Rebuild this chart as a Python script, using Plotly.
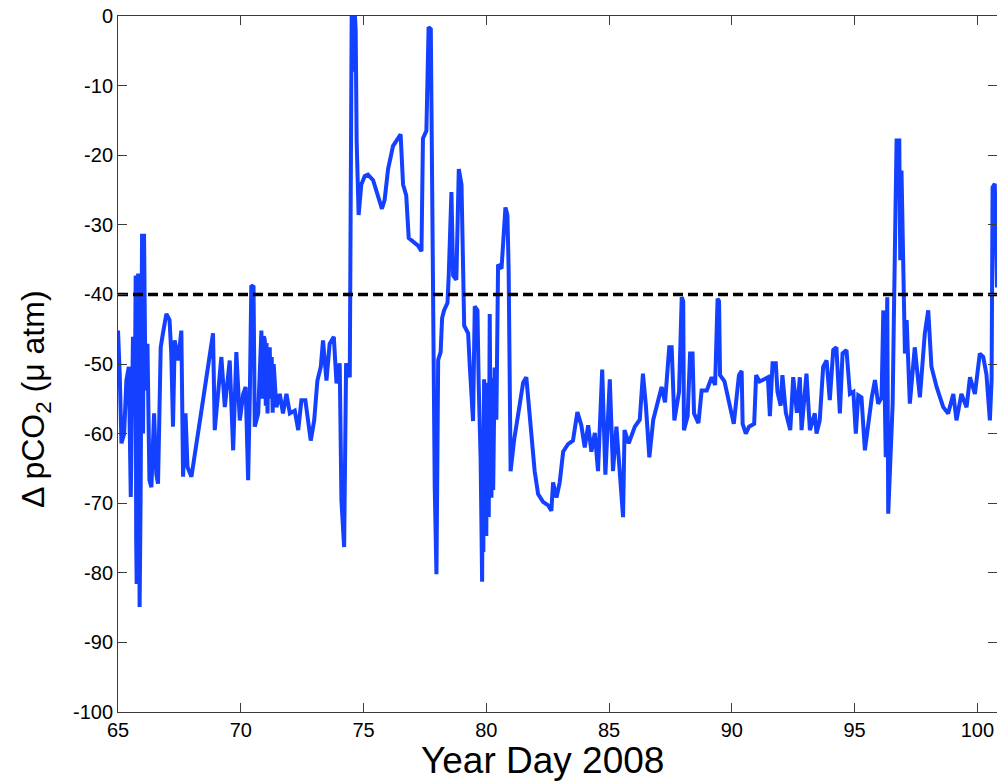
import plotly.graph_objects as go

# Year day 2008 and air-sea pCO2 difference (micro-atm)
day = [
    65.00, 65.07, 65.14, 65.25, 65.34, 65.44, 65.52, 65.61, 65.68, 65.72,
    65.74, 65.76, 65.78, 65.80, 65.82, 65.85, 65.88, 65.92, 65.95, 65.98,
    66.02, 66.06, 66.12, 66.20, 66.28, 66.36,
    66.47, 66.56, 66.63, 66.74, 66.83, 66.97, 67.10, 67.17, 67.24, 67.31,
    67.45, 67.58, 67.65, 67.75, 67.83, 67.99, 68.42, 68.87, 68.94, 69.08,
    69.21, 69.35, 69.55, 69.69, 69.82, 69.96, 70.10, 70.20, 70.30, 70.37,
    70.43, 70.52, 70.57, 70.71, 70.84, 70.90, 70.94, 70.98, 71.02, 71.05,
    71.09, 71.12, 71.18, 71.22, 71.26, 71.30, 71.34, 71.45,
    71.59, 71.72, 71.86, 72.00, 72.20, 72.34, 72.47, 72.63, 72.74, 72.85,
    72.99, 73.12, 73.26, 73.35, 73.49, 73.62, 73.79, 73.90, 74.03, 74.10,
    74.21, 74.29, 74.44, 74.48, 74.52, 74.57, 74.62, 74.68, 74.72, 74.80,
    74.91, 75.05, 75.18, 75.39, 75.59, 75.75, 75.86, 76.00, 76.20, 76.40,
    76.51, 76.61, 76.74, 76.84, 77.02, 77.22, 77.36, 77.42, 77.56, 77.65,
    77.74, 77.79, 77.83, 77.90, 77.97, 78.01, 78.04, 78.14, 78.20, 78.28,
    78.42, 78.47, 78.58, 78.65, 78.78, 78.88, 78.99, 79.10, 79.26, 79.33,
    79.46, 79.53, 79.64, 79.69, 79.77, 79.83, 79.86, 79.88, 79.91, 79.95,
    80.00, 80.03, 80.07, 80.10, 80.14, 80.17, 80.21, 80.24, 80.28, 80.34,
    80.41, 80.48, 80.62, 80.78, 80.86, 80.91, 80.99,
    81.13, 81.29, 81.50, 81.63, 81.77, 81.97, 82.11, 82.31, 82.52, 82.65,
    82.72, 82.86, 82.99, 83.13, 83.33, 83.53, 83.71, 83.87, 84.01, 84.15,
    84.28, 84.42, 84.55, 84.72, 84.85, 85.03, 85.16, 85.30, 85.57, 85.63,
    85.80, 86.05, 86.25, 86.38, 86.50, 86.64, 86.80, 87.14, 87.28, 87.45,
    87.55, 87.62, 87.66, 87.85, 87.96, 88.02, 88.05, 88.20, 88.30, 88.40,
    88.46, 88.64, 88.77, 88.98, 89.18, 89.32, 89.42, 89.48, 89.52, 89.70,
    89.88, 90.08, 90.29, 90.40, 90.44, 90.57, 90.70, 90.91, 90.99, 91.13,
    91.26, 91.47, 91.55, 91.66, 91.79, 91.86, 91.99, 92.06, 92.20, 92.38,
    92.50, 92.65, 92.77, 92.84, 93.04, 93.18, 93.38, 93.45, 93.58, 93.72,
    93.86, 93.99, 94.13, 94.26, 94.40, 94.51, 94.67, 94.81, 94.95, 95.05,
    95.15, 95.28, 95.42, 95.57, 95.70, 95.83, 95.96, 96.10, 96.17, 96.27,
    96.33, 96.37, 96.44, 96.55, 96.60, 96.64, 96.71, 96.82, 96.86, 96.91,
    96.98, 97.05, 97.12, 97.25, 97.45, 97.66, 97.86, 98.00, 98.13, 98.34,
    98.61, 98.81, 99.02, 99.15, 99.35, 99.56, 99.70, 99.90, 100.10, 100.24,
    100.37, 100.51, 100.58, 100.62, 100.71, 100.80,
]
dpco2 = [
    -45.2, -51.4, -61.4, -60.0, -52.4, -50.4, -69.1, -46.1, -57.1, -37.3,
    -75.0, -81.6, -40.0, -78.0, -37.0, -60.0, -84.9, -69.6, -40.0, -31.3,
    -60.0, -31.3, -53.8, -47.1, -66.7, -67.7,
    -57.1, -65.8, -67.2, -47.6, -45.6, -42.8, -43.7, -48.5, -59.0, -46.6,
    -49.5, -45.2, -66.2, -57.1, -64.8, -66.2, -56.2, -45.6, -59.5, -53.3,
    -49.0, -56.2, -49.5, -62.4, -48.3, -58.1, -54.3, -53.3, -66.7, -54.3,
    -38.7, -38.9, -59.0, -57.1, -45.2, -55.0, -46.0, -46.6, -56.0, -47.0,
    -57.1, -50.0, -47.6, -55.0, -49.0, -57.0, -50.0, -56.2,
    -54.3, -57.1, -54.3, -57.1, -56.7, -59.5, -55.2, -55.2, -58.1, -61.0,
    -58.1, -52.4, -50.4, -46.6, -52.4, -47.1, -46.1, -52.8, -49.9, -69.6,
    -76.3, -49.9, -51.9, -23.6, 2.0, -8.0, 2.0, -2.0, -18.0, -28.6,
    -24.2, -23.0, -22.8, -23.6, -25.8, -27.7, -26.4, -22.0, -18.7, -17.6,
    -17.0, -24.2, -25.8, -31.9, -32.4, -33.0, -33.8, -17.6, -16.5, -1.6,
    -1.9, -19.8, -47.2, -67.6, -80.2, -68.0, -49.4, -48.3, -43.4, -42.3,
    -41.2, -37.3, -25.3, -37.3, -37.9, -22.0, -24.2, -44.5, -45.6, -50.5,
    -58.2, -41.7, -42.3, -52.7, -63.7, -81.3, -60.0, -77.0, -52.2, -70.0,
    -74.7, -56.0, -52.7, -72.0, -42.8, -60.0, -69.2, -52.0, -68.1, -50.5,
    -58.0, -35.7, -36.3, -27.5, -28.6, -36.3, -65.4,
    -61.0, -57.1, -52.7, -51.9, -57.1, -65.4, -68.7, -69.8, -70.3, -71.1,
    -67.0, -69.2, -67.0, -62.6, -61.5, -61.0, -56.9, -58.8, -62.0, -58.8,
    -62.6, -59.9, -65.4, -50.8, -65.9, -52.2, -65.4, -59.0, -72.0, -59.5,
    -61.4, -59.0, -58.0, -51.4, -56.0, -63.4, -58.0, -53.3, -55.5, -47.6,
    -47.6, -56.5, -58.1, -54.0, -40.4, -41.0, -59.5, -57.5, -48.5, -48.5,
    -57.1, -58.5, -53.8, -53.8, -51.9, -53.0, -40.6, -41.0, -51.6, -52.5,
    -55.7, -58.6, -51.6, -51.0, -58.6, -60.0, -59.0, -58.6, -51.6, -52.5,
    -52.3, -51.9, -57.5, -49.9, -49.9, -54.0, -56.0, -51.6, -57.0, -59.5,
    -51.9, -57.0, -51.9, -59.5, -51.4, -59.5, -57.1, -60.0, -58.1, -50.4,
    -49.5, -55.2, -48.0, -47.6, -57.1, -48.5, -48.0, -54.3, -54.0, -60.0,
    -54.5, -54.8, -62.4, -58.0, -54.8, -52.3, -55.7, -54.8, -42.3, -63.4,
    -40.4, -71.5, -65.0, -55.7, -43.2, -35.1, -17.9, -17.9, -35.1, -22.2,
    -32.7, -48.5, -43.7, -55.7, -47.6, -54.8, -45.6, -42.3, -50.4, -53.3,
    -56.2, -57.1, -54.3, -58.1, -54.3, -56.2, -51.9, -54.3, -48.5, -49.0,
    -51.5, -58.1, -52.3, -24.6, -24.1, -39.0,
]
assert len(day) == len(dpco2)

x_range = [65, 100.8]
y_range = [-100, 0]
x_ticks = [65, 70, 75, 80, 85, 90, 95, 100]
y_ticks = [-100, -90, -80, -70, -60, -50, -40, -30, -20, -10, 0]
threshold = -40

FONT = "Liberation Sans, Arial, sans-serif"

fig = go.Figure()
fig.add_trace(go.Scatter(
    x=day, y=dpco2, mode="lines",
    line=dict(color="#1440ff", width=4),
    showlegend=False, hoverinfo="skip",
))
fig.add_trace(go.Scatter(
    x=x_range, y=[threshold, threshold], mode="lines",
    line=dict(color="black", width=3.5, dash="10px,5px"),
    showlegend=False, hoverinfo="skip",
))

axis_common = dict(
    showline=True, linecolor="#3c3c3c", linewidth=1,
    mirror="ticks", ticks="inside", ticklen=9, tickwidth=1, tickcolor="#3c3c3c",
    showgrid=False, zeroline=False,
    tickfont=dict(family=FONT, size=20, color="black"),
)

fig.update_xaxes(range=x_range, tickvals=x_ticks, ticktext=[str(v) for v in x_ticks], **axis_common)
fig.update_yaxes(range=y_range, tickvals=y_ticks, ticktext=[str(v) for v in y_ticks], **axis_common)

fig.update_layout(
    width=997, height=781,
    margin=dict(l=118, r=0, t=16, b=69, autoexpand=False),
    paper_bgcolor="white", plot_bgcolor="white",
    annotations=[
        dict(text="Year Day 2008", xref="paper", yref="paper",
             x=0.4835, y=-0.069, xanchor="center", yanchor="middle",
             showarrow=False, font=dict(family=FONT, size=37, color="black")),
        dict(text="\u0394 pCO<sub>2</sub> (\u03bc atm)", xref="paper", yref="paper",
             x=-0.093, y=0.45, xanchor="center", yanchor="middle", textangle=-90,
             showarrow=False, font=dict(family=FONT, size=32, color="black")),
    ],
)

fig.write_html("out.html")
